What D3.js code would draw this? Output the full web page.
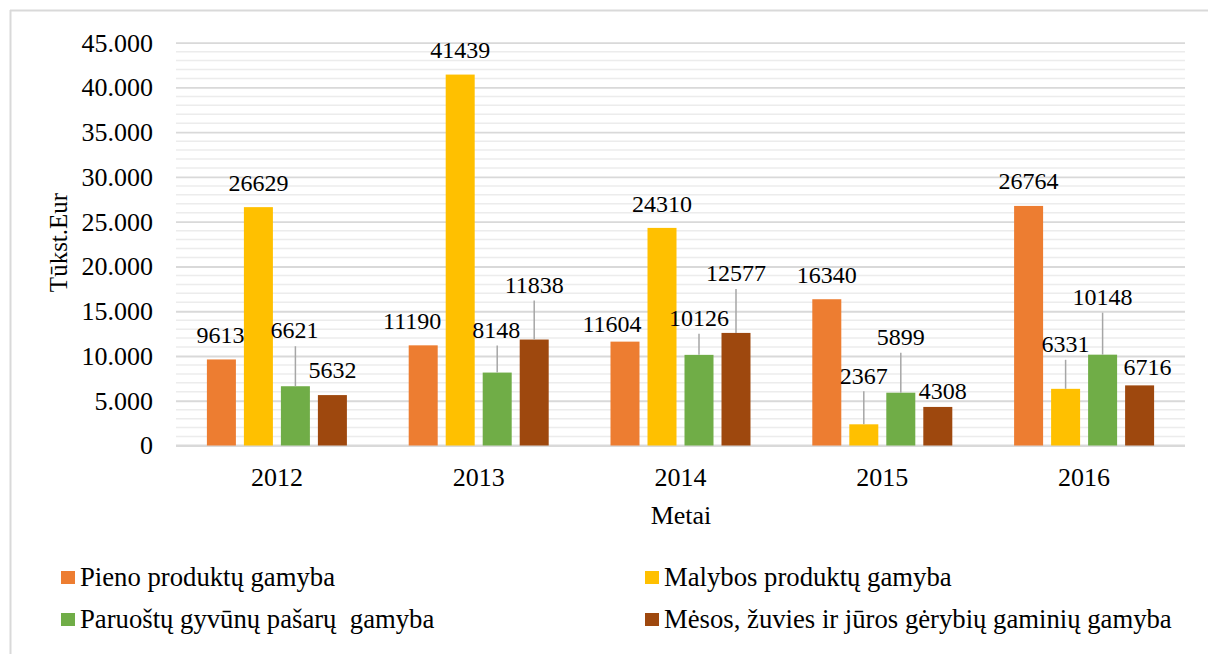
<!DOCTYPE html>
<html>
<head>
<meta charset="utf-8">
<script src="https://cdn.jsdelivr.net/npm/d3@7"></script>
</head>
<body style="margin:0">
<script>
// ---- data ----
const years = ["2012", "2013", "2014", "2015", "2016"];
const seriesNames = [
  "Pieno produktų gamyba",
  "Malybos produktų gamyba",
  "Paruoštų gyvūnų pašarų  gamyba",
  "Mėsos, žuvies ir jūros gėrybių gaminių gamyba"
];
const pieno   = [9613, 11190, 11604, 16340, 26764];
const malybos = [26629, 41439, 24310, 2367, 6331];
const pasaru  = [6621, 8148, 10126, 5899, 10148];
const mesos   = [5632, 11838, 12577, 4308, 6716];
const yTicks  = [0, 5000, 10000, 15000, 20000, 25000, 30000, 35000, 40000, 45000];
const yTitle = "Tūkst.Eur";
const xTitle = "Metai";

// ---- layout / style ----
const FONT = '"Liberation Serif"';
const colors = ["#ED7D31", "#FFC000", "#70AD47", "#9E480E"];
// manual label placement (px) relative to bar centre/top: [dx, dy, leader]
const labelLayout = [
  [[-1,-25,0],[0,-24,0],[-1,-56,1],[0,-25,0]],
  [[-11,-25,0],[0,-25,0],[-1,-43,1],[0,-55,1]],
  [[-13,-18,0],[0,-24,0],[0,-37,1],[0,-60,1]],
  [[0,-24,0],[0,-49,1],[0,-56,1],[5,-16,0]],
  [[0,-25,0],[0,-45,1],[0,-58,1],[8,-19,0]]
];

const seriesValues = [pieno, malybos, pasaru, mesos];
const svg = d3.select("body").append("svg").attr("id", "viz")
  .attr("width", 1208).attr("height", 654).style("display", "block");

// frame
svg.append("line").attr("x1", 10).attr("x2", 1208).attr("y1", 10.5).attr("y2", 10.5)
  .attr("stroke", "#d9d9d9").attr("stroke-width", 2);
svg.append("line").attr("x1", 10.5).attr("x2", 10.5).attr("y1", 10).attr("y2", 654)
  .attr("stroke", "#d9d9d9").attr("stroke-width", 2);

const plotLeft = 176, plotRight = 1185, plotTop = 42.7, plotBottom = 445.5;

const x0 = d3.scaleBand().domain(years).range([plotLeft, plotRight]).padding(0);
const x1 = d3.scaleBand().domain(d3.range(seriesNames.length)).range([-70, 70])
  .paddingInner(8 / 37).paddingOuter(0);
const y = d3.scaleLinear().domain([0, 45000]).range([plotBottom, plotTop]);

const loc = d3.formatLocale({decimal: ",", thousands: ".", grouping: [3], currency: ["", ""]});
const fmt = loc.format(",");

// minor gridlines
const minor = d3.range(1000, 45001, 1000).filter(v => v % 5000 !== 0);
svg.append("g").selectAll("line").data(minor).join("line")
  .attr("x1", plotLeft).attr("x2", plotRight)
  .attr("y1", d => y(d)).attr("y2", d => y(d))
  .attr("stroke", "#ececec").attr("stroke-width", 1.5);

// y axis via d3 axis (major gridlines + labels)
const yAxis = d3.axisLeft(y).tickValues(yTicks).tickFormat(d => fmt(d))
  .tickSize(-(plotRight - plotLeft)).tickPadding(23);
const gy = svg.append("g").attr("transform", `translate(${plotLeft},0)`).call(yAxis);
gy.select(".domain").remove();
gy.selectAll(".tick line").attr("stroke", "#d9d9d9").attr("stroke-width", 1.8);
gy.selectAll(".tick text").attr("font-size", 26).attr("fill", "#000");

// x axis
const xAxis = d3.axisBottom(x0).tickSize(0).tickPadding(0);
const gx = svg.append("g").attr("transform", `translate(0,${plotBottom})`).call(xAxis);
gx.select(".domain").attr("stroke", "#d9d9d9").attr("stroke-width", 2)
  .attr("d", `M${plotLeft},0H${plotRight}`);
gx.selectAll(".tick text").attr("font-size", 26).attr("fill", "#000")
  .attr("y", 40).attr("dy", 0);

// bars
const groups = svg.append("g").selectAll("g").data(years).join("g")
  .attr("transform", d => `translate(${x0(d) + x0.bandwidth() / 2},0)`);

groups.selectAll("rect").data((d, i) => seriesValues.map((s, k) => ({k, v: s[i]})))
  .join("rect")
  .attr("x", d => x1(d.k)).attr("width", x1.bandwidth())
  .attr("y", d => y(d.v)).attr("height", d => plotBottom - y(d.v))
  .attr("fill", d => colors[d.k]);

// labels
groups.each(function (yr, i) {
  const g = d3.select(this);
  seriesValues.forEach((s, k) => {
    const v = s[i];
    const cx = x1(k) + x1.bandwidth() / 2;
    const top = y(v);
    const [dx, dy, leader] = labelLayout[i][k];
    const ly = top + dy;
    if (leader) {
      g.append("line").attr("x1", cx).attr("x2", cx)
        .attr("y1", top).attr("y2", ly + 16)
        .attr("stroke", "#a6a6a6").attr("stroke-width", 1.5);
    }
    g.append("text").attr("x", cx + dx).attr("y", ly + 8.2)
      .attr("text-anchor", "middle").attr("font-size", 24).attr("fill", "#000")
      .text(v);
  });
});

// axis titles
svg.append("text").attr("transform", "translate(67,242.5) rotate(-90)")
  .attr("text-anchor", "middle").attr("font-size", 25).attr("fill", "#000").text(yTitle);
svg.append("text").attr("x", 681).attr("y", 524)
  .attr("text-anchor", "middle").attr("font-size", 26).attr("fill", "#000").text(xTitle);

// legend
const legPos = [[61, 571], [645, 571], [61, 613], [645, 613]];
const leg = svg.append("g").selectAll("g").data(seriesNames).join("g")
  .attr("transform", (d, i) => `translate(${legPos[i][0]},${legPos[i][1]})`);
leg.append("rect").attr("width", 14).attr("height", 13).attr("fill", (d, i) => colors[i]);
leg.append("text").attr("x", 19).attr("y", 14.5).attr("font-size", 26.7).attr("fill", "#000")
  .style("white-space", "pre").text(d => d);

// font on every text
svg.selectAll("text").style("font-family", FONT);
</script>
</body>
</html>
